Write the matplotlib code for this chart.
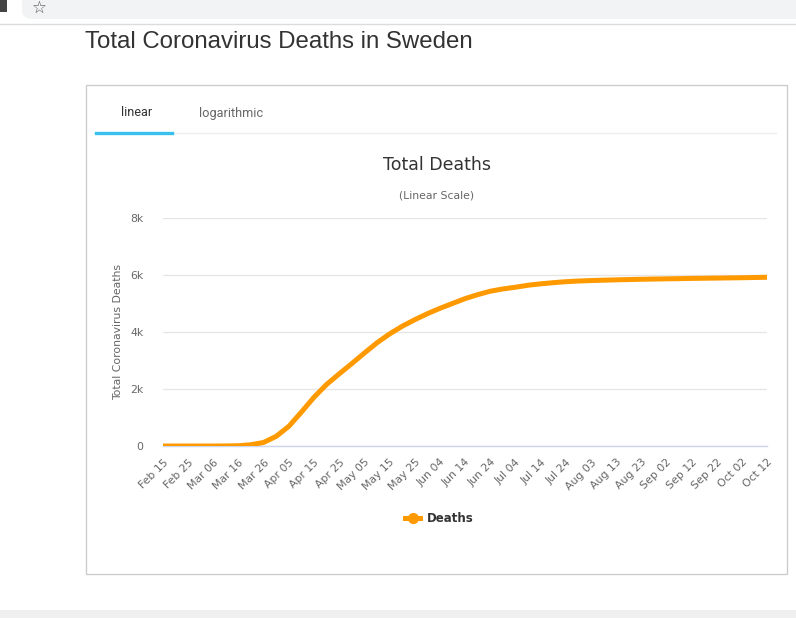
import numpy as np
import pandas as pd
import matplotlib
matplotlib.use('Agg')
import matplotlib.pyplot as plt
from matplotlib.patches import Rectangle, FancyBboxPatch
from matplotlib.lines import Line2D

# data: total deaths, every 5 days from Feb 15
deaths = [0, 0, 0, 0, 0, 1, 10, 45, 125, 340,
          690, 1190, 1710, 2160, 2530, 2890, 3260, 3620, 3930, 4200,
          4430, 4640, 4830, 5000, 5170, 5310, 5430, 5510, 5570, 5640,
          5690, 5730, 5765, 5788, 5805, 5818, 5830, 5840, 5850, 5858,
          5865, 5872, 5880, 5886, 5892, 5898, 5904, 5912, 5920]
dates = pd.date_range('2020-02-15', periods=len(deaths), freq='5D')

tick_labels = ['Feb 15', 'Feb 25', 'Mar 06', 'Mar 16', 'Mar 26', 'Apr 05', 'Apr 15',
               'Apr 25', 'May 05', 'May 15', 'May 25', 'Jun 04', 'Jun 14', 'Jun 24',
               'Jul 04', 'Jul 14', 'Jul 24', 'Aug 03', 'Aug 13', 'Aug 23', 'Sep 02',
               'Sep 12', 'Sep 22', 'Oct 02', 'Oct 12']
tick_dates = pd.date_range('2020-02-15', periods=len(tick_labels), freq='10D')
y_ticks = [0, 2000, 4000, 6000, 8000]
y_labels = ['0', '2k', '4k', '6k', '8k']

W, H = 796, 618
fig = plt.figure(figsize=(W / 100, H / 100), dpi=100)
fig.patch.set_facecolor('white')

def fx(x):
    return x / W

def fy(y):
    return 1 - y / H

def hline(x0, x1, y, color, lw=1.0):
    fig.add_artist(Line2D([fx(x0), fx(x1)], [fy(y), fy(y)], color=color, lw=lw,
                          transform=fig.transFigure))

# browser chrome
fig.add_artist(FancyBboxPatch((fx(22), fy(19)), fx(810) - fx(22), fy(-12) - fy(19),
                              boxstyle='round,pad=0,rounding_size=0.014',
                              transform=fig.transFigure, fc='#f1f3f4', ec='none'))
fig.text(fx(39), fy(7.5), '☆', fontsize=12, color='#555', ha='center', va='center')
fig.add_artist(Rectangle((fx(-8), fy(12)), fx(7) - fx(-8), fy(-4) - fy(12),
                         transform=fig.transFigure, fc='#444', ec='none'))
hline(0, W, 24, '#dadce0')

# page title
fig.text(fx(85), fy(42), 'Total Coronavirus Deaths in Sweden', fontsize=17.3,
         family='Liberation Sans', color='#333333', ha='left', va='center')

# chart box
fig.add_artist(Rectangle((fx(85.5), fy(573.5)), fx(787) - fx(85.5), fy(85) - fy(573.5),
                         transform=fig.transFigure, fc='none', ec='#cccccc', lw=1))

# tabs
fig.text(fx(137), fy(113), 'linear', fontsize=9.2, family='Roboto', color='#333',
         ha='center', va='center')
fig.text(fx(231), fy(113), 'logarithmic', fontsize=9.2, family='Roboto', color='#666',
         ha='center', va='center')
hline(96, 776, 132.5, '#eeeeee', lw=1)
hline(96, 172, 133, '#39c0ec', lw=2.4)

# footer strip
fig.add_artist(Rectangle((0, 0), 1, fy(610), transform=fig.transFigure,
                         fc='#f0f0f0', ec='none'))

# chart
ax = fig.add_axes([fx(163), fy(446), fx(767) - fx(163), fy(218) - fy(446)])
ax.plot(dates, deaths, color='#FF9900', lw=3.6, solid_capstyle='round',
        solid_joinstyle='round')
ax.set_xlim(dates[0], dates[-1])
ax.set_ylim(0, 8000)
ax.set_yticks(y_ticks)
ax.set_yticklabels(y_labels)
ax.set_xticks(tick_dates)
ax.set_xticklabels(tick_labels, rotation=45, ha='right', va='top', rotation_mode='anchor')
ax.tick_params(axis='x', length=0, pad=8, labelsize=7.8, labelcolor='#666666')
ax.tick_params(axis='y', length=0, pad=14, labelsize=7.8, labelcolor='#666666')
ax.grid(axis='y', color='#e6e6e6', lw=1)
ax.set_axisbelow(True)
for s in ['top', 'right', 'left']:
    ax.spines[s].set_visible(False)
ax.spines['bottom'].set_color('#ccd6eb')
ax.spines['bottom'].set_linewidth(1)
ax.spines['bottom'].set_zorder(0.5)

fig.text(fx(437), fy(165), 'Total Deaths', fontsize=12.5, color='#333333',
         ha='center', va='center')
fig.text(fx(437), fy(196), '(Linear Scale)', fontsize=7.8, color='#666666',
         ha='center', va='center')
fig.text(fx(118), fy(332), 'Total Coronavirus Deaths', fontsize=7.8, color='#666666',
         ha='center', va='center', rotation=90)

# legend
fig.add_artist(Line2D([fx(405), fx(420)], [fy(518), fy(518)], color='#FF9900', lw=3.6,
                      transform=fig.transFigure))
fig.add_artist(Line2D([fx(412.5)], [fy(518)], color='#FF9900', marker='o', markersize=7,
                      transform=fig.transFigure))
fig.text(fx(427), fy(518), 'Deaths', fontsize=8.5, fontweight='bold', color='#333333',
         ha='left', va='center')

fig.savefig('out.png', dpi=100)
